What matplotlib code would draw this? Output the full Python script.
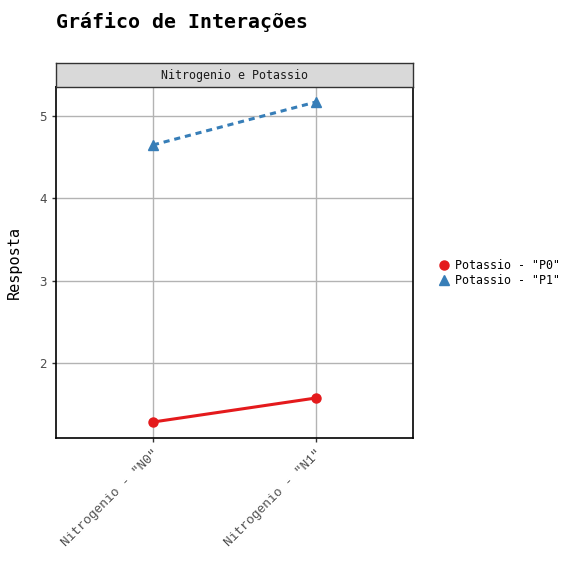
import matplotlib
matplotlib.use("Agg")
import matplotlib.pyplot as plt

# data
nitrogen = ['Nitrogenio - "N0"', 'Nitrogenio - "N1"']
p0_values = [1.283, 1.575]
p1_values = [4.648, 5.17]
series_labels = ['Potassio - "P0"', 'Potassio - "P1"']
y_ticks = [2, 3, 4, 5]

plt.rcParams["font.family"] = ["DejaVu Sans Mono"]

fig = plt.figure(figsize=(5.76, 5.76), dpi=100)
W, H = 576, 576
ax = fig.add_axes([56 / W, 1 - 438 / H, (413 - 56) / W, (438 - 87) / H])

x = [1, 2]
ax.plot(x, p0_values, color="#e41a1c", lw=2.2, marker="o", ms=6.5, label=series_labels[0])
ax.plot(x, p1_values, color="#377eb8", lw=2.2, ls=(0, (2.0, 1.6)), marker="^", ms=7.5,
        label=series_labels[1])

ax.set_xlim(0.405, 2.595)
ax.set_ylim(1.089, 5.352)
ax.set_xticks(x)
ax.set_xticklabels(nitrogen, rotation=45, ha="right", va="top", rotation_mode="anchor",
                   fontsize=9.3, color="#4d4d4d", family="Liberation Mono")
ax.set_yticks(y_ticks)
ax.set_yticklabels([str(v) for v in y_ticks], fontsize=9, color="#4d4d4d")
ax.tick_params(axis="both", length=3, color="#333333", width=1)
ax.grid(True, color="#b3b3b3", lw=1)
ax.set_axisbelow(True)
for sp in ax.spines.values():
    sp.set_color("black")
    sp.set_linewidth(1.2)
ax.set_ylabel("Resposta", fontsize=11, labelpad=13)

# facet strip
strip = fig.add_axes([56 / W, 1 - 87 / H, (413 - 56) / W, (87 - 63) / H])
strip.set_facecolor("#d9d9d9")
strip.set_xticks([]), strip.set_yticks([])
for sp in strip.spines.values():
    sp.set_color("#333333")
    sp.set_linewidth(1)
strip.text(0.5, 0.5, "Nitrogenio e Potassio", ha="center", va="center", fontsize=8.4,
           color="#1a1a1a", transform=strip.transAxes)

fig.text(56 / W, 1 - 22 / H, "Gráfico de Interações", fontsize=14.3, fontweight="bold",
         ha="left", va="center")

fig.legend(loc="center left", bbox_to_anchor=(433 / W, 1 - 273 / H), frameon=False,
           fontsize=8.4, handlelength=0.8, handletextpad=0.6, labelspacing=0.15,
           borderpad=0)
leg = fig.legends[0]
for h in leg.legend_handles:
    h.set_linestyle("none")

fig.savefig("out.png", dpi=100)
